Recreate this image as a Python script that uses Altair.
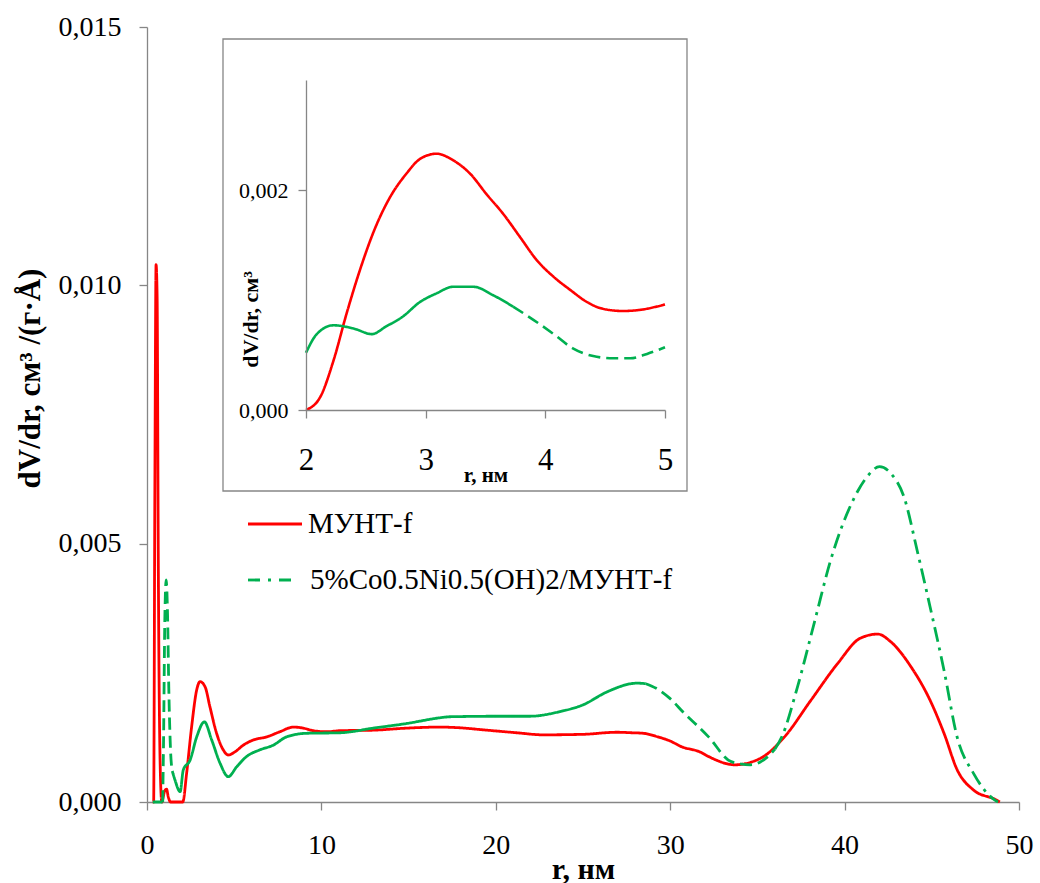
import altair as alt
import pandas as pd

# ---------------- data ----------------
series_names = ["МУНТ-f", "5%Co0.5Ni0.5(OH)2/МУНТ-f"]

# main chart, red curve (МУНТ-f)
red_r = [0.33, 0.38, 0.45, 0.52, 0.58, 0.65, 0.75, 0.85, 1.0, 1.12, 1.22, 1.35, 2.05,
         2.27, 2.56, 2.85, 3.04, 3.33, 3.61, 3.99, 4.37, 4.66, 5.04, 5.52, 6.09, 6.86,
         7.62, 8.39, 8.96, 9.54, 10.3, 11.07, 12.98, 14.9, 16.8, 17.75, 19.5, 21.2,
         22.73, 25.0, 26.93, 27.8, 28.46, 29.3, 30.0, 30.65, 31.7, 32.2, 33.7, 35.2,
         36.55, 38.07, 39.6, 40.9, 41.9, 42.65, 43.8, 44.9, 45.7, 46.46, 47.4, 48.7, 48.9]
red_v = [0.0, 0.0, 0.0060, 0.0104, 0.0098, 0.0045, 0.0008, 0.0, 0.0002, 0.00025, 0.0001, 0.0, 0.0,
         0.00055, 0.00146, 0.00217, 0.00233, 0.00223, 0.00184, 0.00133, 0.00101, 0.00091, 0.00097,
         0.00110, 0.00120, 0.00126, 0.00136, 0.00145, 0.00143, 0.00138, 0.00136, 0.00138, 0.00139,
         0.00143, 0.00145, 0.00144, 0.00139, 0.00134, 0.00130, 0.00131, 0.00135, 0.00134, 0.00133,
         0.00126, 0.00118, 0.00107, 0.00097, 0.00088, 0.00072, 0.00085, 0.00126, 0.00197, 0.00268,
         0.00317, 0.00325, 0.00310, 0.00262, 0.00197, 0.00133, 0.00062, 0.00023, 0.00004, 0.0]

# main chart, green curve (5%Co0.5Ni0.5(OH)2/МУНТ-f)
green_r = [0.33, 0.9, 0.95, 1.02, 1.1, 1.18, 1.25, 1.35, 1.45, 1.6, 1.9, 2.08, 2.47, 2.85,
           3.29, 3.71, 4.19, 4.66, 5.14, 5.71, 6.48, 7.24, 8.0, 9.15, 11.07, 12.98, 14.9,
           16.8, 17.37, 20.24, 21.96, 23.68, 25.0, 26.37, 28.1, 28.6, 29.2, 30.0, 30.8,
           31.7, 32.2, 33.5, 34.6, 35.6, 36.0, 36.4, 37.3, 38.3, 39.2, 40.4, 41.3, 42.0,
           42.65, 43.4, 44.2, 44.9, 45.7, 46.45, 47.4, 48.6, 48.8]
green_v = [0.0, 0.0, 0.0012, 0.0035, 0.0043, 0.0036, 0.0022, 0.0010, 0.0006, 0.00043, 0.0002,
           0.00062, 0.00081, 0.00126, 0.00155, 0.00120, 0.00075, 0.00049, 0.00068, 0.00088,
           0.00101, 0.00110, 0.00126, 0.00133, 0.00134, 0.00143, 0.00152, 0.00163, 0.00165,
           0.00166, 0.00166, 0.00175, 0.00188, 0.00213, 0.00230, 0.00229, 0.00220, 0.00200,
           0.00172, 0.00143, 0.00126, 0.00078, 0.00072, 0.00088, 0.00102, 0.00126, 0.00223,
           0.00352, 0.00468, 0.00578, 0.00630, 0.00649, 0.00636, 0.00591, 0.00481, 0.00378,
           0.00255, 0.00126, 0.00055, 0.00004, 0.0]
# line style of the green curve from each r onwards
green_style_r = [0.0, 0.9, 1.45, 28.6, 36.0]
green_style = ["solid", "dash", "solid", "dash", "dashdot"]

# inset (2–5 nm)
inset_red_r = [2.0, 2.12, 2.23, 2.34, 2.45, 2.58, 2.70, 2.84, 2.95, 3.09, 3.23, 3.37, 3.51,
               3.65, 3.79, 3.93, 4.07, 4.21, 4.35, 4.48, 4.65, 4.79, 5.0]
inset_red_v = [0.0, 0.00012, 0.00045, 0.00088, 0.00127, 0.00166, 0.00193, 0.00215, 0.00228,
               0.00233, 0.00227, 0.00215, 0.00196, 0.00178, 0.00157, 0.00136, 0.00121, 0.00109,
               0.00098, 0.00092, 0.00090, 0.00091, 0.00096]
inset_green_r = [2.0, 2.09, 2.23, 2.40, 2.55, 2.67, 2.81, 2.95, 3.09, 3.23, 3.40, 3.57, 3.73,
                 3.90, 4.07, 4.23, 4.40, 4.57, 4.71, 4.85, 5.0]
inset_green_v = [0.00052, 0.00069, 0.00077, 0.00074, 0.00069, 0.00076, 0.00085, 0.00098,
                 0.00106, 0.00112, 0.00112, 0.00104, 0.00094, 0.00082, 0.00069, 0.00056,
                 0.00049, 0.00047, 0.00047, 0.00051, 0.00057]
inset_green_style_r = [2.0, 3.73]
inset_green_style = ["solid", "dash"]

main_x_ticks = [0, 10, 20, 30, 40, 50]
main_y_ticks = [0, 0.005, 0.010, 0.015]
inset_x_ticks = [2, 3, 4, 5]
inset_y_ticks = [0, 0.002]


def build(rs, vs, series, style_r, style_names, prefix):
    rows = []
    for i, (start, st) in enumerate(zip(style_r, style_names)):
        end = style_r[i + 1] if i + 1 < len(style_r) else float("inf")
        for r, v in zip(rs, vs):
            if start <= r <= end:
                rows.append({"r": r, "v": v, "series": series, "style": st,
                             "seg": f"{prefix}-{i}"})
    return rows


main_df = pd.DataFrame(
    build(red_r, red_v, series_names[0], [0.0], ["solid"], "red")
    + build(green_r, green_v, series_names[1], green_style_r, green_style, "green"))
inset_df = pd.DataFrame(
    build(inset_red_r, inset_red_v, series_names[0], [2.0], ["solid"], "ired")
    + build(inset_green_r, inset_green_v, series_names[1], inset_green_style_r,
            inset_green_style, "igreen"))

SERIF = "Liberation Serif"
GRAY = "#868686"
RED = "#FF0000"
GREEN = "#00B050"
comma = "replace(format(datum.value, '.3f'), '.', ',')"

color_scale = alt.Scale(domain=series_names, range=[RED, GREEN])
dash_scale = alt.Scale(domain=["solid", "dash", "dashdot"],
                       range=[[1, 0], [12, 6], [15, 6, 3, 6]])

W, H = 872, 775

main = alt.Chart(main_df).mark_line(strokeWidth=2.8, interpolate="monotone").encode(
    x=alt.X("r:Q", scale=alt.Scale(domain=[0, 50], nice=False, zero=False),
            axis=alt.Axis(values=main_x_ticks, format="d", orient="bottom", labelFlush=False,
                          title="r, нм", labelFontSize=28, labelPadding=21, tickSize=8,
                          titleFontSize=30, titleFontWeight="bold", titleY=76,
                          titleBaseline="alphabetic")),
    y=alt.Y("v:Q", scale=alt.Scale(domain=[0, 0.015], nice=False),
            axis=alt.Axis(values=main_y_ticks, labelExpr=comma, orient="left",
                          title="dV/dr, см³ /(г·Å)", labelFontSize=28, labelPadding=18,
                          tickSize=8, titleFontSize=31, titleFontWeight="bold",
                          titleX=-108, titleY=351, titleAngle=270, titleAlign="center",
                          titleBaseline="alphabetic")),
    color=alt.Color("series:N", scale=color_scale, legend=None),
    strokeDash=alt.StrokeDash("style:N", scale=dash_scale, legend=None),
    detail="seg:N",
)

one = pd.DataFrame({"k": [0]})
box = alt.Chart(one).mark_rect(fill="white", stroke=GRAY, strokeWidth=1.3).encode(
    x=alt.value(76), x2=alt.value(540), y=alt.value(12), y2=alt.value(464))

inset = alt.Chart(inset_df).mark_line(strokeWidth=2.6, interpolate="monotone").encode(
    x=alt.X("r:Q", scale=alt.Scale(domain=[2, 5], range=[159, 518], nice=False, zero=False),
            axis=alt.Axis(values=inset_x_ticks, format="d", orient="bottom", offset=-392,
                          zindex=2, labelFlush=False,
                          title="r, нм", labelFontSize=31, labelPadding=27, tickSize=8,
                          titleFontSize=21, titleFontWeight="bold", titleY=71,
                          titleBaseline="alphabetic")),
    y=alt.Y("v:Q", scale=alt.Scale(domain=[0, 0.003], range=[383, 53], nice=False),
            axis=alt.Axis(values=inset_y_ticks, labelExpr=comma, orient="left", offset=-159,
                          zindex=2,
                          title="dV/dr, см³", labelFontSize=22, labelPadding=10, tickSize=8,
                          titleFontSize=22, titleFontWeight="bold", titleX=-49, titleY=292,
                          titleAngle=270, titleAlign="center", titleBaseline="alphabetic")),
    color=alt.Color("series:N", scale=color_scale, legend=None),
    strokeDash=alt.StrokeDash("style:N", scale=dash_scale, legend=None),
    detail="seg:N",
)

leg_red_line = alt.Chart(one).mark_rule(color=RED, strokeWidth=2.8).encode(
    x=alt.value(101), x2=alt.value(155), y=alt.value(497))
leg_green_line = alt.Chart(one).mark_rule(color=GREEN, strokeWidth=2.8,
                                          strokeDash=[12, 8, 3, 8]).encode(
    x=alt.value(101), x2=alt.value(147), y=alt.value(553))
leg_red_text = alt.Chart(pd.DataFrame({"label": [series_names[0]]})).mark_text(
    align="left", baseline="middle", font=SERIF, fontSize=29, color="black").encode(
    text="label:N", x=alt.value(161), y=alt.value(497))
leg_green_text = alt.Chart(pd.DataFrame({"label": [series_names[1]]})).mark_text(
    align="left", baseline="middle", font=SERIF, fontSize=29, color="black").encode(
    text="label:N", x=alt.value(163), y=alt.value(553))

chart = alt.layer(
    main, box, inset, leg_red_line, leg_green_line, leg_red_text, leg_green_text
).resolve_scale(x="independent", y="independent").properties(
    width=W, height=H, autosize="none",
    padding={"left": 147, "top": 27, "right": 21, "bottom": 81},
    background="white",
).configure_view(stroke=None).configure_axis(
    grid=False, labelFont=SERIF, titleFont=SERIF, labelColor="black", titleColor="black",
    domainColor=GRAY, tickColor=GRAY, domainWidth=1.3, tickWidth=1.3,
)

chart.save("out.html", embed_options={"renderer": "svg", "actions": False})
